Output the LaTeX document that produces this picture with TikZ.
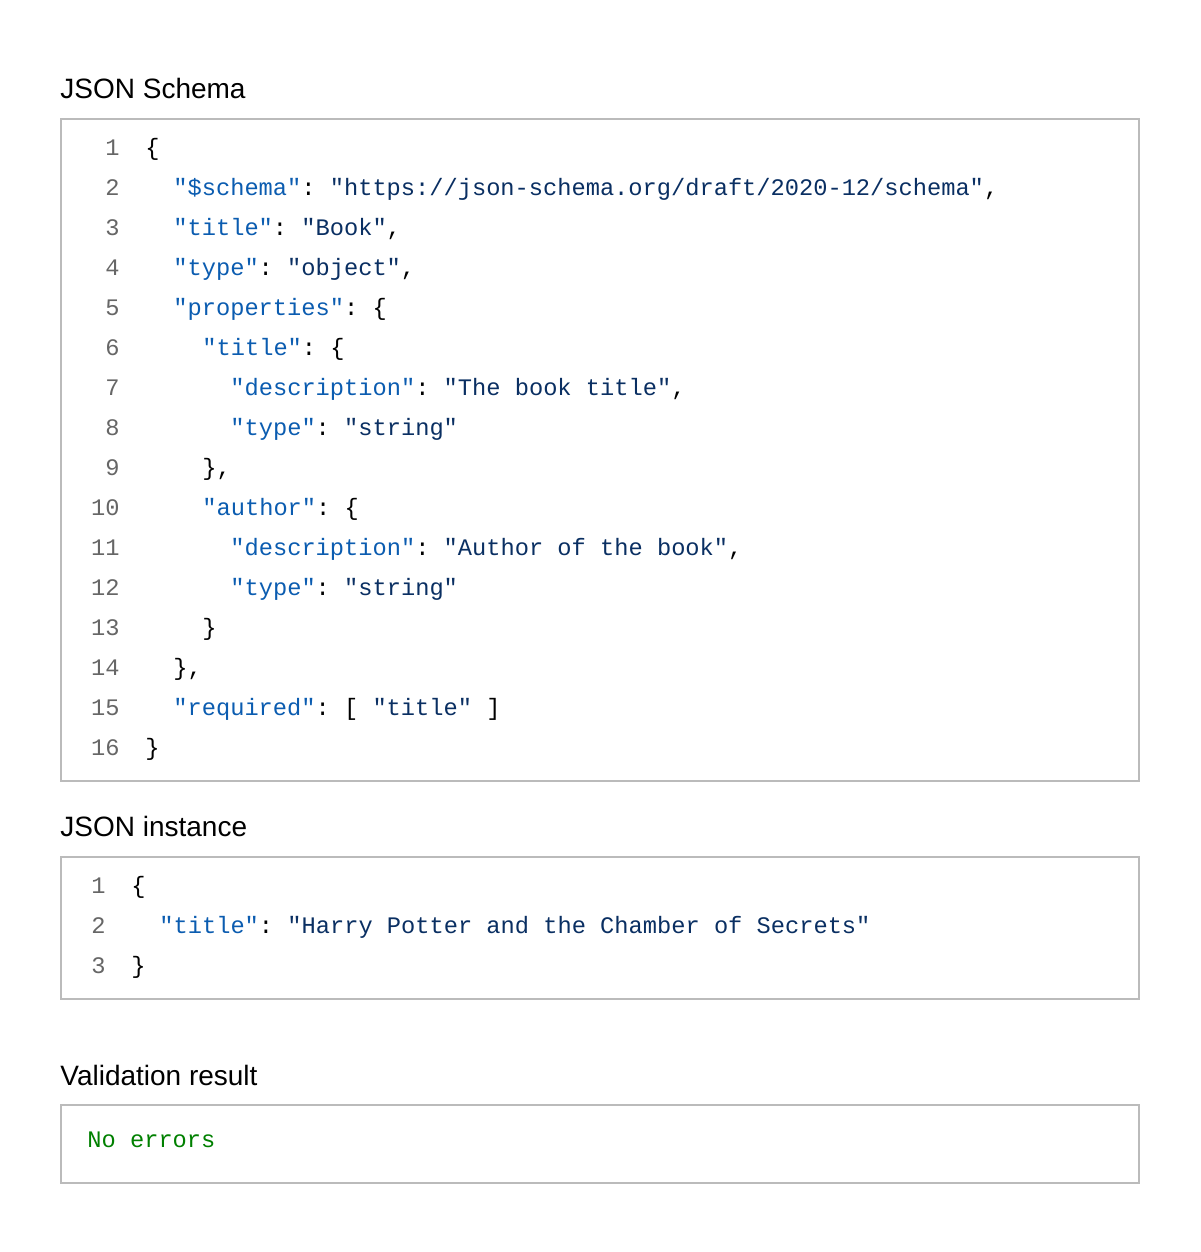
\documentclass[tikz,border=0pt]{standalone}
\usepackage{fontspec}
\setmainfont{Liberation Sans}
\setmonofont{Liberation Mono}
\definecolor{boxgray}{HTML}{BBBBBB}
\definecolor{numgray}{HTML}{666666}
\definecolor{keyblue}{HTML}{0B5CB0}
\definecolor{valnavy}{HTML}{0A2F62}
\definecolor{okgreen}{HTML}{008000}
\newcommand{\jk}[1]{\textcolor{keyblue}{#1}}
\newcommand{\jv}[1]{\textcolor{valnavy}{#1}}
\begin{document}
\begin{tikzpicture}[x=0.5pt,y=-0.5pt,
    heading/.style={anchor=base west, inner sep=0pt, font=\fontsize{14}{16}\selectfont},
    codebox/.style={draw=boxgray, line width=1pt},
    lnum/.style={anchor=base east, inner sep=0pt, text=numgray, font=\ttfamily\fontsize{11.85}{14}\selectfont},
    code/.style={anchor=base west, inner sep=0pt, font=\ttfamily\fontsize{11.85}{14}\selectfont}]
   \useasboundingbox (0,0) rectangle (1200,1252);
   % schema
   \node[heading] (hschema) at (60,98) {JSON Schema};
   \draw[codebox] (61,119) rectangle (1139,781);
   \foreach \i in {1,...,16}
     \node[lnum] (sn\i) at (120,{155.5+40*(\i-1)}) {\i};
   \node[code] (s1)  at (145,155.5) {\{};
   \node[code] (s2)  at (173,195.5) {\jk{"\$schema"}: \jv{"https://json-schema.org/draft/2020-12/schema"},};
   \node[code] (s3)  at (173,235.5) {\jk{"title"}: \jv{"Book"},};
   \node[code] (s4)  at (173,275.5) {\jk{"type"}: \jv{"object"},};
   \node[code] (s5)  at (173,315.5) {\jk{"properties"}: \{};
   \node[code] (s6)  at (202,355.5) {\jk{"title"}: \{};
   \node[code] (s7)  at (230,395.5) {\jk{"description"}: \jv{"The book title"},};
   \node[code] (s8)  at (230,435.5) {\jk{"type"}: \jv{"string"}};
   \node[code] (s9)  at (202,475.5) {\},};
   \node[code] (s10) at (202,515.5) {\jk{"author"}: \{};
   \node[code] (s11) at (230,555.5) {\jk{"description"}: \jv{"Author of the book"},};
   \node[code] (s12) at (230,595.5) {\jk{"type"}: \jv{"string"}};
   \node[code] (s13) at (202,635.5) {\}};
   \node[code] (s14) at (173,675.5) {\},};
   \node[code] (s15) at (173,715.5) {\jk{"required"}: [ \jv{"title"} ]};
   \node[code] (s16) at (145,755.5) {\}};
   % instance
   \node[heading] (hinst) at (60,836) {JSON instance};
   \draw[codebox] (61,857) rectangle (1139,999);
   \foreach \i in {1,2,3}
     \node[lnum] (in\i) at (106,{893.5+40*(\i-1)}) {\i};
   \node[code] (i1) at (131,893.5) {\{};
   \node[code] (i2) at (159,933.5) {\jk{"title"}: \jv{"Harry Potter and the Chamber of Secrets"}};
   \node[code] (i3) at (131,973.5) {\}};
   % result
   \node[heading] (hres) at (60,1085) {Validation result};
   \draw[codebox] (61,1105) rectangle (1139,1183);
   \node[code, text=okgreen] (res) at (87,1147.5) {No errors};
\end{tikzpicture}
\end{document}
